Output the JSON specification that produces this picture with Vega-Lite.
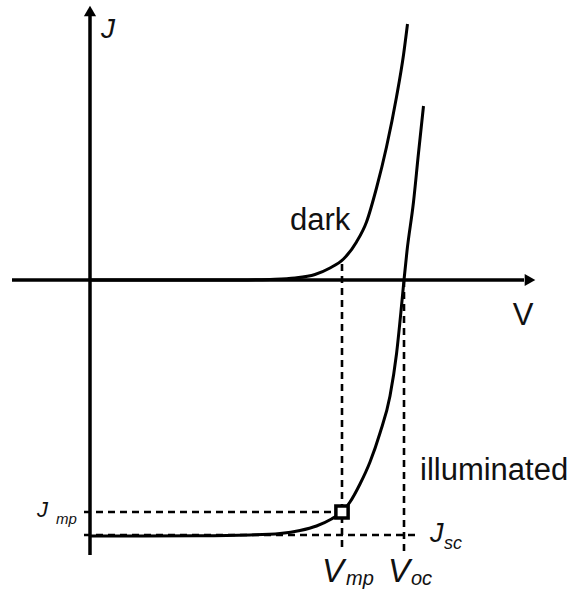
{
  "$schema": "https://vega.github.io/schema/vega-lite/v6.json",
  "width": 577,
  "height": 598,
  "autosize": {"type": "fit", "contains": "padding"},
  "padding": 0,
  "background": "white",
  "config": {"view": {"stroke": null}, "font": "Liberation Sans"},
  "datasets": {
    "axes": [
      {"V": -0.156, "V2": 0.868, "J": 0, "J2": 0},
      {"V": 0, "V2": 0, "J": -27.5, "J2": 26.4}
    ],
    "arrows": [
      {"V": 0.88, "J": 0, "dir": "right"},
      {"V": 0, "J": 26.9, "dir": "up"}
    ],
    "guides": [
      {"V": -0.012, "V2": 0.49, "J": -23.2, "J2": -23.2},
      {"V": -0.012, "V2": 0.654, "J": -25.5, "J2": -25.5},
      {"V": 0.504, "V2": 0.504, "J": 1.6, "J2": -27.2},
      {"V": 0.628, "V2": 0.628, "J": 0, "J2": -27.2}
    ],
    "curves": [
      {"curve": "dark", "V": 0.0, "J": 0.0},
      {"curve": "dark", "V": 0.30, "J": 0.0},
      {"curve": "dark", "V": 0.36, "J": 0.06},
      {"curve": "dark", "V": 0.41, "J": 0.2},
      {"curve": "dark", "V": 0.45, "J": 0.55},
      {"curve": "dark", "V": 0.48, "J": 1.2},
      {"curve": "dark", "V": 0.507, "J": 2.1},
      {"curve": "dark", "V": 0.533, "J": 3.8},
      {"curve": "dark", "V": 0.553, "J": 5.8},
      {"curve": "dark", "V": 0.573, "J": 9.2},
      {"curve": "dark", "V": 0.593, "J": 13.3},
      {"curve": "dark", "V": 0.613, "J": 18.3},
      {"curve": "dark", "V": 0.627, "J": 22.5},
      {"curve": "dark", "V": 0.635, "J": 25.6},
      {"curve": "illuminated", "V": 0.0, "J": -25.6},
      {"curve": "illuminated", "V": 0.22, "J": -25.58},
      {"curve": "illuminated", "V": 0.32, "J": -25.5},
      {"curve": "illuminated", "V": 0.38, "J": -25.35},
      {"curve": "illuminated", "V": 0.42, "J": -25.05},
      {"curve": "illuminated", "V": 0.453, "J": -24.6},
      {"curve": "illuminated", "V": 0.483, "J": -23.9},
      {"curve": "illuminated", "V": 0.504, "J": -23.2},
      {"curve": "illuminated", "V": 0.52, "J": -22.2},
      {"curve": "illuminated", "V": 0.54, "J": -20.4},
      {"curve": "illuminated", "V": 0.56, "J": -18.2},
      {"curve": "illuminated", "V": 0.58, "J": -15.3},
      {"curve": "illuminated", "V": 0.6, "J": -11.6},
      {"curve": "illuminated", "V": 0.613, "J": -7.4},
      {"curve": "illuminated", "V": 0.623, "J": -2.6},
      {"curve": "illuminated", "V": 0.628, "J": 0.0},
      {"curve": "illuminated", "V": 0.634, "J": 2.9},
      {"curve": "illuminated", "V": 0.647, "J": 7.8},
      {"curve": "illuminated", "V": 0.657, "J": 12.7},
      {"curve": "illuminated", "V": 0.667, "J": 17.4}
    ],
    "mpp": [{"V": 0.504, "J": -23.2}],
    "labels": [
      {"role": "axisJ", "V": 0.022, "J": 24.2, "text": "J"},
      {"role": "axisV", "V": 0.866, "J": -4.5, "text": "V"},
      {"role": "curve", "V": 0.40, "J": 5.0, "text": "dark"},
      {"role": "curve", "V": 0.66, "J": -20.0, "text": "illuminated"},
      {"role": "Jmp", "V": -0.106, "J": -23.7, "text": "J"},
      {"role": "JmpSub", "V": -0.068, "J": -24.4, "text": "mp"},
      {"role": "Jsc", "V": 0.68, "J": -26.2, "text": "J"},
      {"role": "JscSub", "V": 0.708, "J": -26.9, "text": "sc"},
      {"role": "Vlow", "V": 0.464, "J": -30.2, "text": "V"},
      {"role": "Vlow", "V": 0.596, "J": -30.2, "text": "V"},
      {"role": "VlowSub", "V": 0.512, "J": -30.5, "text": "mp"},
      {"role": "VlowSub", "V": 0.642, "J": -30.5, "text": "oc"}
    ]
  },
  "encoding": {
    "x": {"field": "V", "type": "quantitative", "scale": {"domain": [-0.18, 0.974], "nice": false, "zero": false}, "axis": null},
    "y": {"field": "J", "type": "quantitative", "scale": {"domain": [-31.8, 28.0], "nice": false, "zero": false}, "axis": null}
  },
  "layer": [
    {
      "data": {"name": "axes"},
      "mark": {"type": "rule", "color": "black", "strokeWidth": 3.5},
      "encoding": {"x2": {"field": "V2"}, "y2": {"field": "J2"}}
    },
    {
      "data": {"name": "arrows"},
      "mark": {"type": "point", "filled": true, "color": "black", "opacity": 1, "size": 150},
      "encoding": {
        "shape": {"field": "dir", "type": "nominal", "scale": {"domain": ["right", "up"], "range": ["triangle-right", "triangle-up"]}, "legend": null}
      }
    },
    {
      "data": {"name": "guides"},
      "mark": {"type": "rule", "color": "black", "strokeWidth": 2.6, "strokeDash": [7, 5]},
      "encoding": {"x2": {"field": "V2"}, "y2": {"field": "J2"}}
    },
    {
      "data": {"name": "curves"},
      "mark": {"type": "line", "color": "black", "strokeWidth": 3, "interpolate": "monotone"},
      "encoding": {"detail": {"field": "curve", "type": "nominal"}}
    },
    {
      "data": {"name": "mpp"},
      "mark": {"type": "point", "shape": "square", "size": 150, "filled": true, "fill": "white", "stroke": "black", "strokeWidth": 3.5, "opacity": 1}
    },
    {
      "data": {"name": "labels"},
      "transform": [{"filter": {"field": "role", "equal": "axisJ"}}],
      "mark": {"type": "text", "fontSize": 28, "fontStyle": "italic", "align": "left", "baseline": "alphabetic", "color": "#111"},
      "encoding": {"text": {"field": "text"}}
    },
    {
      "data": {"name": "labels"},
      "transform": [{"filter": {"field": "role", "equal": "axisV"}}],
      "mark": {"type": "text", "fontSize": 31, "align": "center", "baseline": "alphabetic", "color": "#111"},
      "encoding": {"text": {"field": "text"}}
    },
    {
      "data": {"name": "labels"},
      "transform": [{"filter": {"field": "role", "equal": "curve"}}],
      "mark": {"type": "text", "fontSize": 31, "align": "left", "baseline": "alphabetic", "color": "#111"},
      "encoding": {"text": {"field": "text"}}
    },
    {
      "data": {"name": "labels"},
      "transform": [{"filter": {"field": "role", "equal": "Jmp"}}],
      "mark": {"type": "text", "fontSize": 22, "fontStyle": "italic", "align": "left", "baseline": "alphabetic", "color": "#111"},
      "encoding": {"text": {"field": "text"}}
    },
    {
      "data": {"name": "labels"},
      "transform": [{"filter": {"field": "role", "equal": "JmpSub"}}],
      "mark": {"type": "text", "fontSize": 15, "fontStyle": "italic", "align": "left", "baseline": "alphabetic", "color": "#111"},
      "encoding": {"text": {"field": "text"}}
    },
    {
      "data": {"name": "labels"},
      "transform": [{"filter": {"field": "role", "equal": "Jsc"}}],
      "mark": {"type": "text", "fontSize": 27, "fontStyle": "italic", "align": "left", "baseline": "alphabetic", "color": "#111"},
      "encoding": {"text": {"field": "text"}}
    },
    {
      "data": {"name": "labels"},
      "transform": [{"filter": {"field": "role", "equal": "JscSub"}}],
      "mark": {"type": "text", "fontSize": 18, "fontStyle": "italic", "align": "left", "baseline": "alphabetic", "color": "#111"},
      "encoding": {"text": {"field": "text"}}
    },
    {
      "data": {"name": "labels"},
      "transform": [{"filter": {"field": "role", "equal": "Vlow"}}],
      "mark": {"type": "text", "fontSize": 33, "fontStyle": "italic", "align": "left", "baseline": "alphabetic", "color": "#111"},
      "encoding": {"text": {"field": "text"}}
    },
    {
      "data": {"name": "labels"},
      "transform": [{"filter": {"field": "role", "equal": "VlowSub"}}],
      "mark": {"type": "text", "fontSize": 20, "fontStyle": "italic", "align": "left", "baseline": "alphabetic", "color": "#111"},
      "encoding": {"text": {"field": "text"}}
    }
  ]
}
